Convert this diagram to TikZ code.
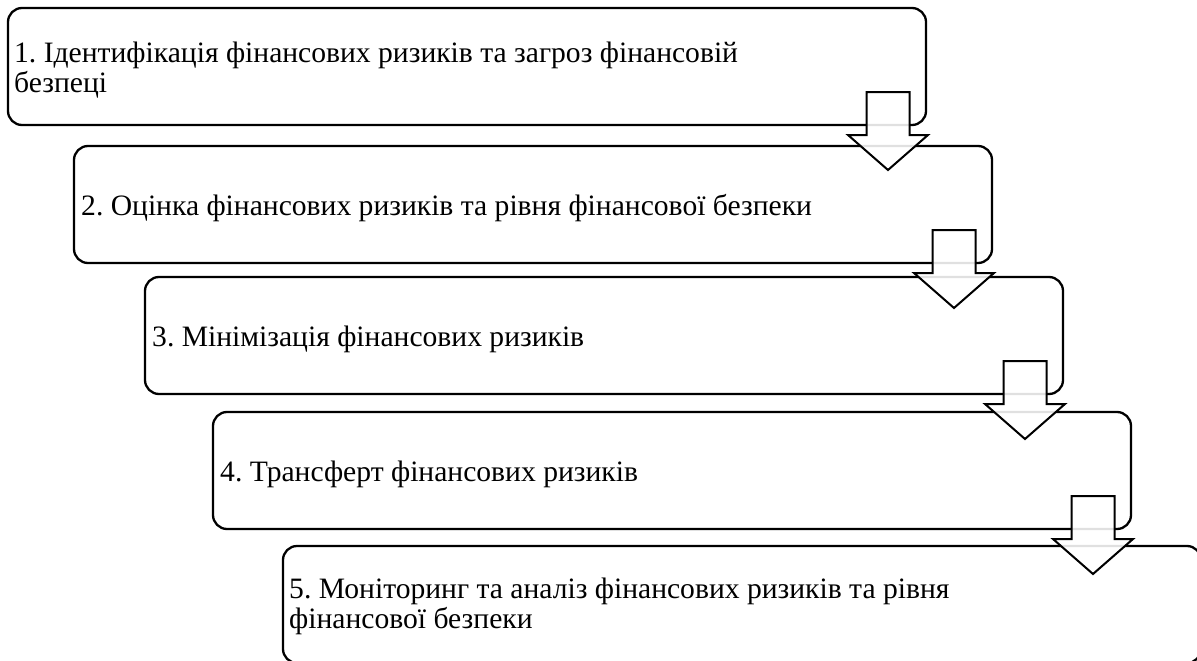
\documentclass[tikz,border=0pt]{standalone}
\usepackage{fontspec}
\setmainfont{Liberation Serif}
\usetikzlibrary{calc}
\frenchspacing
\tikzset{
  stagebox/.style={draw=black, line width=2.3pt, rounded corners=14pt, anchor=north west,
    minimum width=918pt, minimum height=117pt, inner sep=0pt, outer sep=0pt},
  stagetext/.style={anchor=west, align=left, inner sep=0pt, font=\fontsize{29.6}{30}\selectfont},
  blockarrow/.style={draw=black, line width=2pt, fill=white, fill opacity=0.88, line join=miter}
}
\newcommand{\downarrowshape}[1]{%
  \path[blockarrow] ($(#1.south east)+(-59.5,-33)$) -- ($(#1.south east)+(-16.5,-33)$)
    -- ($(#1.south east)+(-16.5,10)$) -- ($(#1.south east)+(2,10)$)
    -- ($(#1.south east)+(-38,45)$) -- ($(#1.south east)+(-78,10)$)
    -- ($(#1.south east)+(-59.5,10)$) -- cycle;}
\begin{document}
\begin{tikzpicture}[x=1pt,y=-1pt]
\clip (0,0) rectangle (1197,661);
\fill[white] (0,0) rectangle (1197,661);
\node[stagebox] (b1) at (8,8) {};
\node[stagebox] (b2) at (74,146) {};
\node[stagebox] (b3) at (145,277) {};
\node[stagebox] (b4) at (213,412) {};
\node[stagebox] (b5) at (283,546) {};
\node[stagetext] (t1) at ($(b1.west)+(6,4)$) {1. Ідентифікація фінансових ризиків та загроз фінансовій\\безпеці};
\node[stagetext] (t2) at ($(b2.west)+(7,4)$) {2. Оцінка фінансових ризиків та рівня фінансової безпеки};
\node[stagetext] (t3) at ($(b3.west)+(7,4)$) {3. Мінімізація фінансових ризиків};
\node[stagetext] (t4) at ($(b4.west)+(7,4)$) {4. Трансферт фінансових ризиків};
\node[stagetext] (t5) at ($(b5.west)+(6,2)$) {5. Моніторинг та аналіз фінансових ризиків та рівня\\фінансової безпеки};
\downarrowshape{b1}
\downarrowshape{b2}
\downarrowshape{b3}
\downarrowshape{b4}
\end{tikzpicture}
\end{document}
